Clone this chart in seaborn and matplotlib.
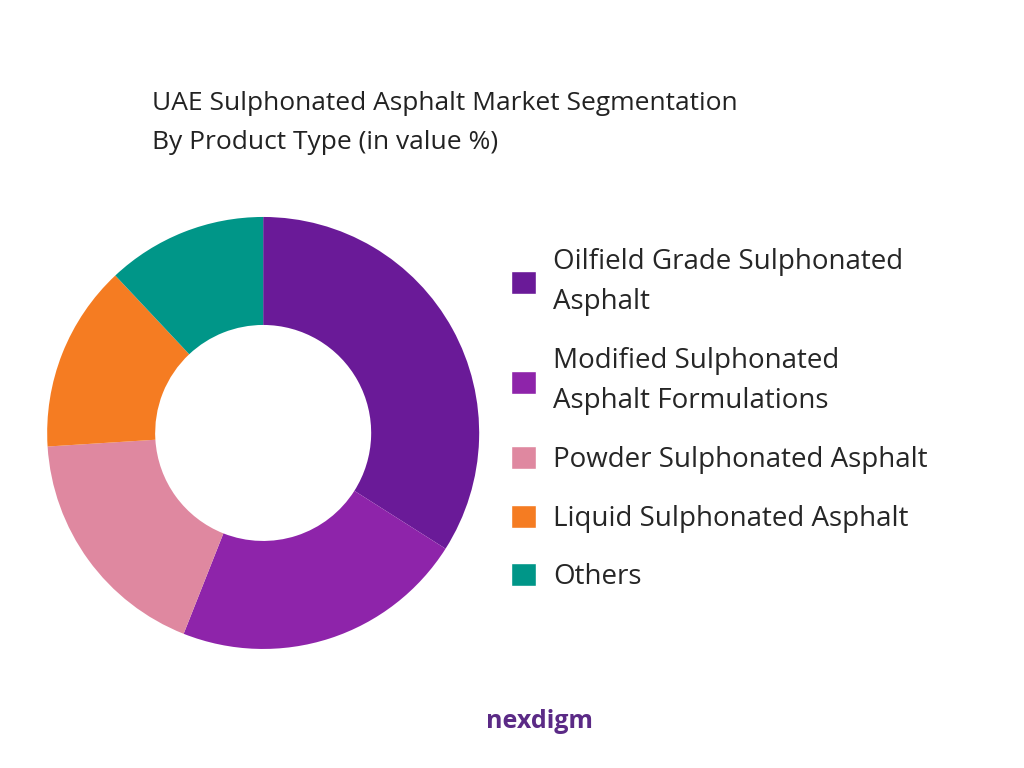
import matplotlib
matplotlib.use("Agg")
import matplotlib.pyplot as plt
import seaborn as sns
from matplotlib.patches import Patch

sns.set_theme(style="white")
plt.rcParams["font.family"] = ["Open Sans", "DejaVu Sans"]

labels = ["Oilfield Grade Sulphonated\nAsphalt", "Modified Sulphonated\nAsphalt Formulations",
          "Powder Sulphonated Asphalt", "Liquid Sulphonated Asphalt", "Others"]
values = [34, 22, 18, 14, 12]
colors = ["#6A1A98", "#8E24AA", "#DF88A0", "#F57C22", "#009688"]

fig = plt.figure(figsize=(10.24, 7.68), dpi=100)
ax = fig.add_axes([0.046, 0.155, 0.422, 0.5625])
ax.pie(values, colors=colors, startangle=90, counterclock=False,
       wedgeprops=dict(width=0.5, edgecolor="none"))
ax.set_xlim(-1, 1)
ax.set_ylim(-1, 1)
ax.set_aspect("equal")

fig.text(0.148, 0.84, "UAE Sulphonated Asphalt Market Segmentation\nBy Product Type (in value %)",
         fontsize=19, color="#222222", va="center", linespacing=1.75)

handles = [Patch(facecolor=c) for c in colors]
leg = fig.legend(handles, labels, loc="upper left", bbox_to_anchor=(0.475, 0.71),
                 frameon=False, fontsize=20, handlelength=0.9, handleheight=0.9,
                 labelspacing=1.1, handletextpad=0.6)
for t in leg.get_texts():
    t.set_linespacing(1.6)

fig.text(0.475, 0.06, "nexdigm", fontsize=18, color="#5B2A86", fontweight="bold",
         ha="left", va="center")
fig.savefig("out.png", dpi=100, facecolor="white")
